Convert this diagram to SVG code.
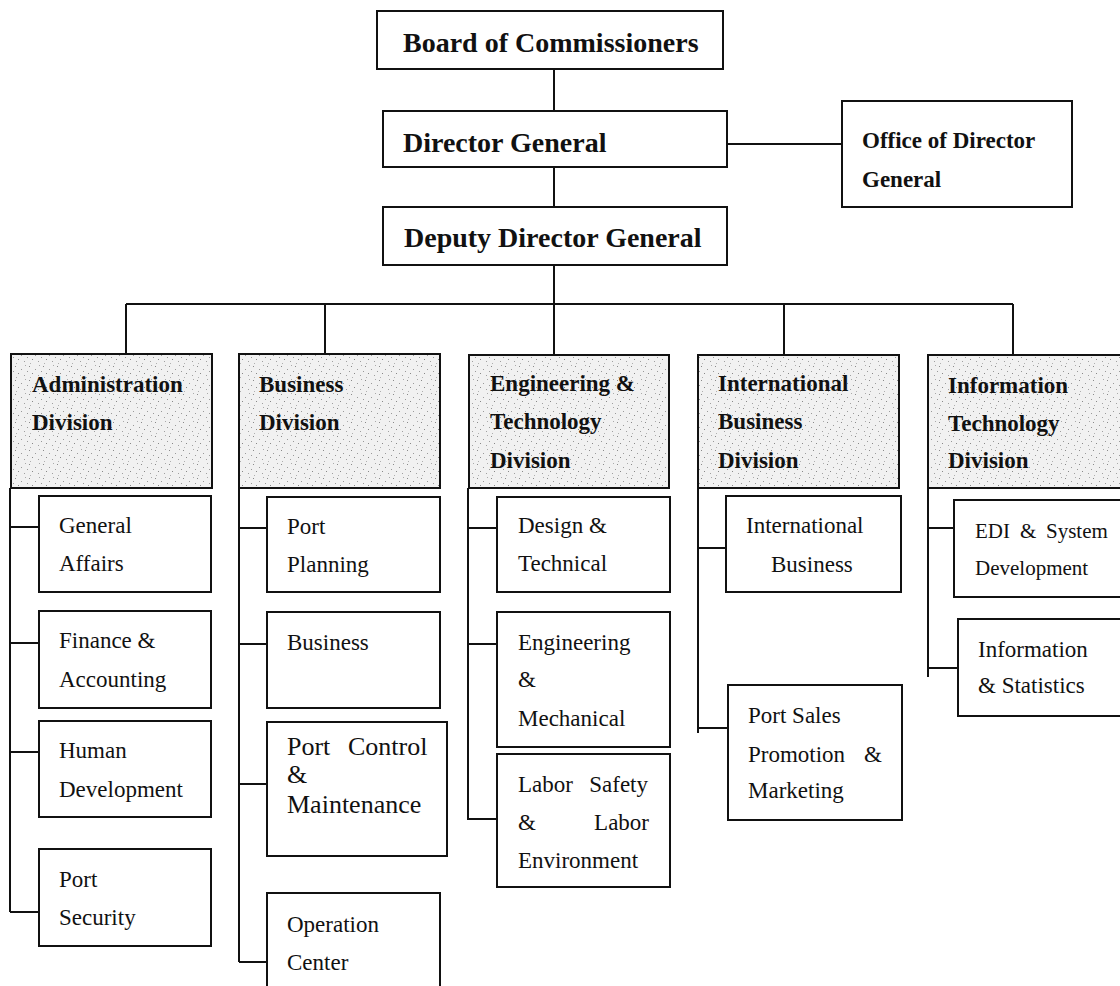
<svg xmlns="http://www.w3.org/2000/svg" width="1120" height="986" viewBox="0 0 1120 986">
<defs>
<pattern id="stip" width="14" height="14" patternUnits="userSpaceOnUse">
<rect width="14" height="14" fill="#f1f1f1"/>
<rect x="1" y="2" width="1" height="1" fill="#8a8a8a"/>
<rect x="7" y="5" width="1" height="1" fill="#9a9a9a"/>
<rect x="11" y="1" width="1" height="1" fill="#aaaaaa"/>
<rect x="4" y="9" width="1" height="1" fill="#888888"/>
<rect x="10" y="11" width="1" height="1" fill="#a0a0a0"/>
<rect x="2" y="13" width="1" height="1" fill="#b0b0b0"/>
<rect x="13" y="7" width="1" height="1" fill="#999999"/>
</pattern>
<style>
.box{fill:#fff;stroke:#111;stroke-width:2}
.div{fill:url(#stip);stroke:#111;stroke-width:2}
.ln{fill:none;stroke:#111;stroke-width:2}
.t1{font-family:"Liberation Serif",serif;font-weight:bold;font-size:28px;fill:#111}
.t2{font-family:"Liberation Serif",serif;font-weight:bold;font-size:23px;fill:#111}
.t3{font-family:"Liberation Serif",serif;font-size:23px;fill:#111}
.t4{font-family:"Liberation Serif",serif;font-size:26px;fill:#111}
.t5{font-family:"Liberation Serif",serif;font-size:21px;fill:#111}
</style>
</defs>
<rect width="1120" height="986" fill="#fff"/>
<g id="connectors" class="ln">
<path class="ln" d="M554 69V111M554 167V207M727 144H842M554 265V355M126 304H1013M126 304V354M325 304V354M784 304V355M1013 304V355"/>
<path class="ln" d="M10 488V912M10 527H39M10 643H39M10 752H39M10 912H39"/>
<path class="ln" d="M239 488V962M239 528H267M239 644H267M239 784H267M239 962H267"/>
<path class="ln" d="M468 488V820M468 528H497M468 644H497M468 819H497"/>
<path class="ln" d="M698 488V733M698 548H726M698 728H728"/>
<path class="ln" d="M928 488V677M928 528H954M928 668H958"/>
</g>
<g id="board"><rect class="box" x="377" y="11" width="346" height="58"/><text class="t1" x="403" y="52">Board of Commissioners</text></g>
<g id="director-general"><rect class="box" x="383" y="111" width="344" height="56"/><text class="t1" x="403" y="152">Director General</text></g>
<g id="deputy-director-general"><rect class="box" x="383" y="207" width="344" height="58"/><text class="t1" x="404" y="247">Deputy Director General</text></g>
<g id="office-dg"><rect class="box" x="842" y="101" width="230" height="106"/><text class="t2" x="862" y="148">Office of Director</text><text class="t2" x="862" y="187">General</text></g>

<g id="admin-div"><rect class="div" x="11" y="354" width="201" height="134"/><text class="t2" x="32" y="392">Administration</text><text class="t2" x="32" y="430">Division</text></g>
<g id="business-div"><rect class="div" x="239" y="354" width="201" height="134"/><text class="t2" x="259" y="392">Business</text><text class="t2" x="259" y="430">Division</text></g>
<g id="eng-div"><rect class="div" x="469" y="355" width="200" height="133"/><text class="t2" x="490" y="391">Engineering &amp;</text><text class="t2" x="490" y="429">Technology</text><text class="t2" x="490" y="468">Division</text></g>
<g id="intl-div"><rect class="div" x="698" y="355" width="201" height="133"/><text class="t2" x="718" y="391">International</text><text class="t2" x="718" y="429">Business</text><text class="t2" x="718" y="468">Division</text></g>
<g id="it-div"><rect class="div" x="928" y="355" width="200" height="133"/><text class="t2" x="948" y="393">Information</text><text class="t2" x="948" y="431">Technology</text><text class="t2" x="948" y="468">Division</text></g>

<g id="general-affairs"><rect class="box" x="39" y="496" width="172" height="96"/><text class="t3" x="59" y="533">General</text><text class="t3" x="59" y="571">Affairs</text></g>
<g id="finance"><rect class="box" x="39" y="611" width="172" height="97"/><text class="t3" x="59" y="648">Finance &amp;</text><text class="t3" x="59" y="687">Accounting</text></g>
<g id="human"><rect class="box" x="39" y="721" width="172" height="96"/><text class="t3" x="59" y="758">Human</text><text class="t3" x="59" y="797">Development</text></g>
<g id="port-security"><rect class="box" x="39" y="849" width="172" height="97"/><text class="t3" x="59" y="887">Port</text><text class="t3" x="59" y="925">Security</text></g>

<g id="port-planning"><rect class="box" x="267" y="497" width="173" height="95"/><text class="t3" x="287" y="534">Port</text><text class="t3" x="287" y="572">Planning</text></g>
<g id="business"><rect class="box" x="267" y="612" width="173" height="96"/><text class="t3" x="287" y="650">Business</text></g>
<g id="port-control"><rect class="box" x="267" y="722" width="180" height="134"/><text class="t4" x="287" y="755">Port</text><text class="t4" x="348" y="755">Control</text><text class="t4" x="287" y="783">&amp;</text><text class="t4" x="287" y="813">Maintenance</text></g>
<g id="operation-center"><path class="box" d="M267 1000V893H440V1000"/><text class="t3" x="287" y="932">Operation</text><text class="t3" x="287" y="970">Center</text></g>

<g id="design"><rect class="box" x="497" y="497" width="173" height="95"/><text class="t3" x="518" y="533">Design &amp;</text><text class="t3" x="518" y="571">Technical</text></g>
<g id="eng-mech"><rect class="box" x="497" y="612" width="173" height="135"/><text class="t3" x="518" y="650">Engineering</text><text class="t3" x="518" y="687">&amp;</text><text class="t3" x="518" y="726">Mechanical</text></g>
<g id="labor"><rect class="box" x="497" y="754" width="173" height="133"/><text class="t3" x="518" y="792">Labor</text><text class="t3" x="648" y="792" text-anchor="end">Safety</text><text class="t3" x="518" y="830">&amp;</text><text class="t3" x="649" y="830" text-anchor="end">Labor</text><text class="t3" x="518" y="868">Environment</text></g>

<g id="intl-business"><rect class="box" x="726" y="496" width="175" height="96"/><text class="t3" x="746" y="533">International</text><text class="t3" x="771" y="572">Business</text></g>
<g id="port-sales"><rect class="box" x="728" y="685" width="174" height="135"/><text class="t3" x="748" y="723">Port Sales</text><text class="t3" x="748" y="762">Promotion</text><text class="t3" x="882" y="762" text-anchor="end">&amp;</text><text class="t3" x="748" y="798">Marketing</text></g>

<g id="edi"><rect class="box" x="954" y="500" width="175" height="97"/><text class="t5" x="975" y="538">EDI</text><text class="t5" x="1020" y="538">&amp;</text><text class="t5" x="1046" y="538">System</text><text class="t5" x="975" y="575">Development</text></g>
<g id="info-stats"><rect class="box" x="958" y="619" width="175" height="97"/><text class="t3" x="978" y="657">Information</text><text class="t3" x="978" y="693">&amp; Statistics</text></g>
</svg>
